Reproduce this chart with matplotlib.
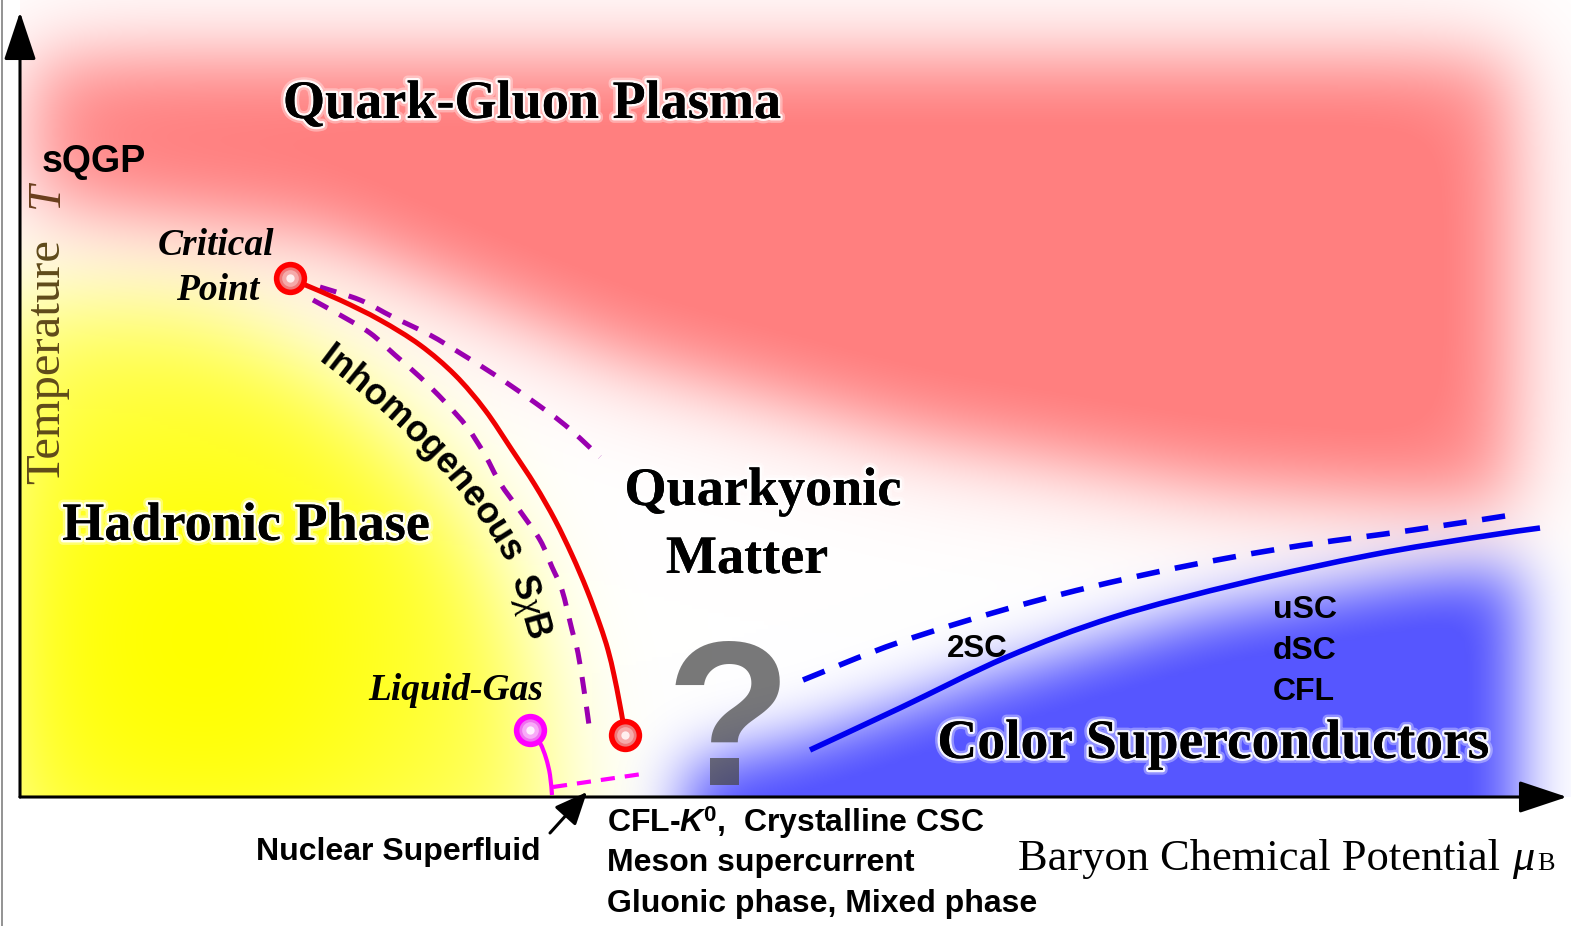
import numpy as np
import matplotlib
matplotlib.use("Agg")
import matplotlib.pyplot as plt
from matplotlib.path import Path
from matplotlib.patches import Rectangle, PathPatch
from matplotlib.font_manager import FontProperties, findfont, get_font
import matplotlib.patheffects as pe

plt.rcParams["mathtext.fontset"] = "custom"
plt.rcParams["mathtext.rm"] = "Liberation Sans:bold"
plt.rcParams["mathtext.it"] = "Liberation Serif:italic"
plt.rcParams["mathtext.bf"] = "Liberation Sans:bold"
plt.rcParams["mathtext.bfit"] = "Liberation Sans:italic:bold"

# ---------------- phase-diagram data (mu_B, T) in diagram units ----------------
critical_point = (270, 519)
crossover_end = (605, 62)
liquid_gas_point = (510, 67)

first_order_mu = [270, 283, 320, 360, 400, 435, 465, 492, 515, 535, 552, 567, 580, 588, 594, 599, 603, 605]
first_order_T = [519, 513, 497, 477, 452, 422, 387, 347, 312, 277, 242, 207, 172, 147, 122, 97, 75, 62]

inhom_inner_mu = [293, 320, 350, 375, 400, 425, 447, 465, 480, 500, 520, 532, 542, 552, 558, 564, 569]
inhom_inner_T = [497, 482, 464, 442, 420, 395, 370, 342, 314, 286, 257, 230, 207, 167, 144, 107, 72]

inhom_outer_mu = [300, 340, 373, 410, 440, 475, 507, 545, 580]
inhom_outer_T = [510, 497, 480, 462, 444, 422, 400, 372, 340]

liquid_gas_mu = [510, 520, 526, 530, 532]
liquid_gas_T = [67, 54, 39, 22, 2]

superfluid_mu = [533, 622]
superfluid_T = [10, 23]

csc_solid_mu = [790, 880, 987, 1094, 1222, 1351, 1458, 1520]
csc_solid_T = [47, 89, 140, 180, 214, 242, 260, 269]

csc_dashed_mu = [783, 880, 1008, 1137, 1265, 1393, 1498]
csc_dashed_T = [117, 155, 194, 225, 249, 267, 283]

mu_max, T_max = 1547, 785

# ---------------- figure ----------------
fig = plt.figure(figsize=(15.71, 9.26), dpi=100)
ax = fig.add_axes([0, 0, 1, 1])
ax.set_xlim(-20, 1551)
ax.set_ylim(-129, 797)
ax.set_aspect("equal")
ax.axis("off")

# ---------------- soft coloured phase regions ----------------
step = 4.0
gx = np.arange(-160, 1720, step)
gy = np.arange(-200, 960, step)
GX, GY = np.meshgrid(gx, gy)
grid_pts = np.column_stack([GX.ravel(), GY.ravel()])


def blur(a, s):
    r = int(np.ceil(3 * s))
    k = np.exp(-0.5 * (np.arange(-r, r + 1) / s) ** 2)
    k /= k.sum()
    a = np.apply_along_axis(np.convolve, 1, a, k, mode="same")
    a = np.apply_along_axis(np.convolve, 0, a, k, mode="same")
    return a


def soft_region(verts, sigma):
    m = Path(verts).contains_points(grid_pts).reshape(GX.shape).astype(float)
    return blur(m, sigma / step)


qgp_shape = [(12, 738), (1490, 738), (1490, 290), (1200, 310), (900, 360),
             (600, 440), (300, 565), (12, 596)]
hadron_shape = [(-40, 505), (180, 500), (310, 435), (410, 345), (480, 250),
                (524, 120), (548, -90), (-40, -90)]
csc_shape = [(665, -90), (665, 30), (790, 58), (980, 122), (1180, 182),
             (1380, 218), (1500, 230), (1500, -90)]

a_red = 0.5 * soft_region(qgp_shape, 32) + 0.5 * soft_region(qgp_shape, 60)
a_red = np.clip(a_red * 1.08, 0, 1)
a_yel = soft_region(hadron_shape, 50)
r2 = (GX - 180) ** 2 + (GY - 157) ** 2
a_yel *= 0.40 + 0.60 * np.exp(-r2 / (2 * 250.0 ** 2))
a_blue = np.clip(soft_region(csc_shape, 30) * 1.05, 0, 1)

img = np.ones(GX.shape + (3,))
for a, col in ((a_yel, (1.0, 1.0, 0.0)),
               (a_red, (1.0, 0.5, 0.5)),
               (a_blue, (0.34, 0.34, 1.0))):
    a = np.clip(a, 0, 1)[..., None]
    img = img * (1 - a) + np.array(col) * a

bg = ax.imshow(img, origin="lower", interpolation="bilinear", zorder=0,
               extent=(gx[0] - step / 2, gx[-1] + step / 2, gy[0] - step / 2, gy[-1] + step / 2))
bg.set_clip_path(Rectangle((0, 0), 1551, 797, transform=ax.transData))

# ---------------- axes with arrows ----------------
ax.axvline(-18, color="#8a8a8a", lw=1.3, zorder=1)
arrow_kw = dict(arrowstyle="-|>,head_length=1.5,head_width=0.5", color="black",
                lw=2.2, shrinkA=0, shrinkB=0, mutation_scale=20)
ax.annotate("", xy=(0, T_max), xytext=(0, 0), arrowprops=arrow_kw, zorder=8)
ax.annotate("", xy=(mu_max, 0), xytext=(0, 0), arrowprops=arrow_kw, zorder=8)


# ---------------- phase boundaries (smooth cubic paths through the points) ----------------
def smooth_curve(xs, ys, **kw):
    P = np.column_stack([xs, ys]).astype(float)
    ext = np.vstack([P[0], P, P[-1]])
    verts, codes = [P[0]], [Path.MOVETO]
    for i in range(len(P) - 1):
        p0, p1, p2, p3 = ext[i], ext[i + 1], ext[i + 2], ext[i + 3]
        verts += [p1 + (p2 - p0) / 6, p2 - (p3 - p1) / 6, p2]
        codes += [Path.CURVE4] * 3
    ax.add_patch(PathPatch(Path(verts, codes), fill=False, **kw))


smooth_curve(first_order_mu, first_order_T, edgecolor="#f00000", lw=3.6, zorder=4,
             capstyle="round")
smooth_curve(inhom_inner_mu, inhom_inner_T, edgecolor="#9a00b0", lw=3.6,
             linestyle=(0, (3.4, 2.6)), zorder=3, capstyle="butt")
smooth_curve(inhom_outer_mu, inhom_outer_T, edgecolor="#9a00b0", lw=3.6,
             linestyle=(0, (3.4, 2.6)), zorder=3, capstyle="butt")
smooth_curve(liquid_gas_mu, liquid_gas_T, edgecolor="#ff00ff", lw=3.0, zorder=4)
ax.plot(superfluid_mu, superfluid_T, color="#ff00ff", lw=3.0, dashes=(3.4, 2.4), zorder=4)
smooth_curve(csc_solid_mu, csc_solid_T, edgecolor="#0000f0", lw=4.0, zorder=4,
             capstyle="butt")
smooth_curve(csc_dashed_mu, csc_dashed_T, edgecolor="#0000f0", lw=4.0,
             linestyle=(0, (4.2, 2.8)), zorder=4, capstyle="butt")


def end_point(pt, edge, face, mid, centre):
    ax.plot(*pt, "o", ms=20, mew=4.0, mec=edge, mfc=face, zorder=6)
    ax.plot(*pt, "o", ms=12, mew=0, mfc=mid, zorder=6)
    ax.plot(*pt, "o", ms=6, mew=0, mfc=centre, zorder=6)


end_point(critical_point, "#ff0000", "#f07878", "#f6aaaa", "#fff0f0")
end_point(crossover_end, "#ff0000", "#f07878", "#f6aaaa", "#fff0f0")
end_point(liquid_gas_point, "#ff00ff", "#f070f0", "#f8aaf8", "#fff0ff")

# ---------------- labels ----------------
serif_b = dict(family="Liberation Serif", weight="bold")
serif_bi = dict(family="Liberation Serif", weight="bold", style="italic")
sans_b = dict(family="Liberation Sans", weight="bold")
glow = [pe.withStroke(linewidth=7, foreground="white", alpha=0.35),
        pe.withStroke(linewidth=3.5, foreground="white", alpha=0.9), pe.Normal()]

ax.text(512, 679, "Quark-Gluon Plasma", fontsize=39, ha="center", va="baseline",
        path_effects=glow, zorder=5, **serif_b)
ax.text(226, 257, "Hadronic Phase", fontsize=39, ha="center", va="baseline",
        path_effects=glow, zorder=5, **serif_b)
ax.text(743, 292, "Quarkyonic", fontsize=39, ha="center", va="baseline",
        path_effects=glow, zorder=5, **serif_b)
ax.text(727, 224, "Matter", fontsize=39, ha="center", va="baseline",
        path_effects=glow, zorder=5, **serif_b)
ax.text(1193, 39, "Color Superconductors", fontsize=40, ha="center", va="baseline",
        path_effects=glow, zorder=5, **serif_b)

ax.text(22, 625, "sQGP", fontsize=27, ha="left", va="baseline", zorder=5, **sans_b)
ax.text(196, 542, "Critical", fontsize=27, ha="center", va="baseline", zorder=5, **serif_bi)
ax.text(198, 497, "Point", fontsize=27, ha="center", va="baseline", zorder=5, **serif_bi)
ax.text(436, 97, "Liquid-Gas", fontsize=27, ha="center", va="baseline", zorder=5, **serif_bi)

ax.text(927, 140, "2SC", fontsize=22.5, ha="left", va="baseline", zorder=5, **sans_b)
for lab, tb in (("uSC", 179), ("dSC", 138), ("CFL", 97)):
    ax.text(1253, tb, lab, fontsize=23, ha="left", va="baseline", zorder=5, **sans_b)

ax.text(509, 190, r"S$\chi$B", fontsize=26, rotation=-74, ha="center", va="center",
        rotation_mode="anchor", zorder=5, **sans_b)

# large question mark over the unexplored region
ax.text(703, 12, r"$\mathrm{?}$", fontsize=148, ha="center", va="baseline", color="#454545",
        alpha=0.72, zorder=5)


# curved label along the inhomogeneous band
def text_on_curve(s, ctrl, size):
    prop = FontProperties(size=size, **sans_b)
    font = get_font(findfont(prop))
    font.set_size(size, 72)
    adv = np.array([font.load_char(ord(c)).linearHoriAdvance / 65536.0 for c in s])
    adv *= fig.dpi / 72.0
    edges = np.concatenate([[0], np.cumsum(adv)])
    t = np.linspace(0, 1, 600)[:, None]
    P0, P1, P2 = (np.asarray(c, float) for c in ctrl)
    pts = (1 - t) ** 2 * P0 + 2 * (1 - t) * t * P1 + t ** 2 * P2
    der = 2 * (1 - t) * (P1 - P0) + 2 * t * (P2 - P1)
    L = np.concatenate([[0], np.cumsum(np.hypot(*np.diff(pts, axis=0).T))])
    offset = (L[-1] - edges[-1]) / 2
    for i, ch in enumerate(s):
        sc = offset + 0.5 * (edges[i] + edges[i + 1])
        x = np.interp(sc, L, pts[:, 0])
        y = np.interp(sc, L, pts[:, 1])
        dx = np.interp(sc, L, der[:, 0])
        dy = np.interp(sc, L, der[:, 1])
        ang = np.degrees(np.arctan2(dy, dx))
        ax.text(x, y, ch, fontproperties=prop, rotation=ang, rotation_mode="anchor",
                ha="center", va="baseline", zorder=5)


text_on_curve("Inhomogeneous", [(300, 434), (430, 336), (484, 236)], 26)

# axis titles
ax.text(27, 435, "Temperature", fontsize=35, rotation=90, ha="center", va="center",
        family="Liberation Serif", color="#5f4a1a", zorder=5)
ax.text(27, 602, "T", fontsize=34, rotation=90, ha="center", va="center",
        family="Liberation Serif", style="italic", color="#6a3e1c", zorder=5)

ax.text(998, -73, "Baryon Chemical Potential", fontsize=32, ha="left", va="baseline",
        family="Liberation Serif", zorder=5)
ax.text(1492, -73, "\u03bc", fontsize=32, ha="left", va="baseline",
        family="Liberation Serif", style="italic", zorder=5)
ax.text(1517, -73, "B", fontsize=19, ha="left", va="baseline",
        family="Liberation Serif", zorder=5)

# exotic-phase notes below the axis
ax.text(521, -63, "Nuclear Superfluid", fontsize=23, ha="right", va="baseline", zorder=5, **sans_b)
ax.annotate("", xy=(567, 5), xytext=(530, -36),
            arrowprops=dict(arrowstyle="-|>,head_length=0.8,head_width=0.35", color="black",
                            lw=2.2, shrinkA=0, shrinkB=0, mutation_scale=25), zorder=8)
ax.text(587, -35, r"CFL-$\mathbfit{K}^{0}$,  Crystalline CSC", fontsize=23, ha="left",
        va="baseline", zorder=5, **sans_b)
ax.text(587, -74, "Meson supercurrent", fontsize=23, ha="left", va="baseline", zorder=5, **sans_b)
ax.text(587, -115, "Gluonic phase, Mixed phase", fontsize=23, ha="left", va="baseline",
        zorder=5, **sans_b)

fig.savefig("out.png", dpi=100)
